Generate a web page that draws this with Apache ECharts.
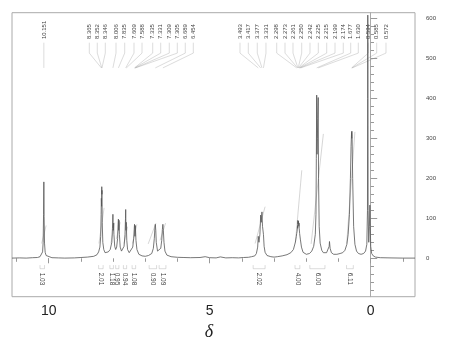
<!DOCTYPE html>
<html><head><meta charset="utf-8">
<script src="https://cdn.jsdelivr.net/npm/echarts@6/dist/echarts.min.js"></script>
<style>html,body{margin:0;padding:0;background:#fff}#c{width:450px;height:349px}</style>
</head><body><div id="c"></div>
<script>
// axis ranges and ticks
const xMin = -1.376, xMax = 11.14, yMin = -96, yMax = 614;
const xMajorTicks = [0, 5, 10];
const xMinorTicks = [-1, 0, 1, 2, 3, 4, 5, 6, 7, 8, 9, 10, 11];
const yMajorTicks = [0, 100, 200, 300, 400, 500, 600];
const yMinorTicks = [-80, -60, -40, -20, 20, 40, 60, 80, 120, 140, 160, 180, 220, 240, 260, 280,
  320, 340, 360, 380, 420, 440, 460, 480, 520, 540, 560, 580];

// picked peaks (ppm) and where their labels sit (ppm)
const peakShifts = [10.151, 8.365, 8.352, 8.346, 8.006, 7.835, 7.609, 7.588, 7.335, 7.331, 7.309, 7.305,
  6.689, 6.454, 3.493, 3.417, 3.377, 3.331, 2.298, 2.273, 2.261, 2.250, 2.242, 2.225, 2.215, 2.199, 2.174,
  1.677, 1.630, 0.594, 0.585, 0.572];
const peakLabelAt = [10.151, 8.739, 8.491, 8.242, 7.910, 7.640, 7.351, 7.102, 6.770, 6.522, 6.255, 6.006,
  5.758, 5.509, 4.059, 3.801, 3.522, 3.252, 2.919, 2.661, 2.413, 2.143, 1.885, 1.627, 1.366, 1.108, 0.851,
  0.621, 0.385, 0.075, -0.186, -0.475];

// integrals
const intValues = ['1.03', '2.01', '1.18', '0.95', '0.94', '1.08', '0.90', '1.09', '2.02', '4.00', '6.00', '6.11'];
const intFrom = [10.27, 8.45, 8.10, 7.92, 7.68, 7.41, 6.88, 6.57, 3.65, 2.35, 1.89, 0.75];
const intTo   = [10.13, 8.31, 7.99, 7.82, 7.58, 7.30, 6.65, 6.36, 3.28, 2.20, 1.42, 0.54];
const intCurveStart = [10.22, 8.44, 8.07, 7.90, 7.66, 7.40, 6.91, 6.54, 3.59, 2.34, 1.85, 0.745];
const intCurveEnd   = [10.08, 8.28, 7.95, 7.78, 7.55, 7.26, 6.67, 6.37, 3.28, 2.14, 1.47, 0.49];
const intCurveLow   = [37, 37, 37, 48, 37, 37, 36, 45, 37, 38, 36, 37];
const intCurveHigh  = [82, 126, 89, 90, 79, 85, 88, 88, 129, 220, 311, 316];

// spectrum [ppm, intensity]
const spectrum = [
  [11.14, 0.5], [10.9, 1], [10.7, 0.5], [10.5, 1.5],
  [10.35, 2], [10.27, 4], [10.22, 8], [10.19, 16], [10.172, 40], [10.160, 110], [10.151, 191], [10.143, 105],
  [10.130, 38], [10.11, 15], [10.08, 7], [10.03, 3], [9.9, 1.5],
  [9.7, 1], [9.5, 0.5], [9.2, 1], [9.0, 2], [8.8, 3], [8.6, 5], [8.5, 9],
  [8.45, 16], [8.41, 28], [8.385, 55], [8.372, 110], [8.365, 150], [8.358, 130], [8.352, 179], [8.349, 160],
  [8.346, 170], [8.338, 90], [8.32, 40], [8.29, 22], [8.25, 14], [8.2, 12], [8.15, 16],
  [8.09, 22], [8.04, 40], [8.020, 75], [8.006, 110], [7.995, 70], [7.985, 88], [7.975, 60], [7.95, 30],
  [7.92, 22], [7.89, 28],
  [7.86, 50], [7.845, 85], [7.835, 98], [7.825, 70], [7.815, 95], [7.805, 60], [7.78, 28], [7.74, 18],
  [7.70, 20], [7.66, 30],
  [7.63, 60], [7.615, 100], [7.609, 122], [7.600, 70], [7.592, 90], [7.588, 95], [7.575, 45], [7.55, 22],
  [7.50, 14], [7.44, 16], [7.39, 28],
  [7.36, 50], [7.345, 72], [7.335, 85], [7.331, 80], [7.320, 55], [7.309, 82], [7.305, 80], [7.29, 45],
  [7.26, 22], [7.2, 10], [7.1, 6], [7.0, 5], [6.9, 7],
  [6.80, 12], [6.75, 25], [6.72, 50], [6.70, 78], [6.689, 85], [6.675, 70], [6.66, 40], [6.62, 18],
  [6.57, 16], [6.52, 25],
  [6.49, 45], [6.47, 72], [6.454, 85], [6.44, 70], [6.42, 40], [6.39, 18], [6.33, 8], [6.2, 4], [6.0, 2.5],
  [5.8, 2], [5.6, 1.5], [5.3, 2], [5.14, 4], [5.0, 1.5], [4.8, 1], [4.67, 3.5], [4.5, 1], [4.3, 1.5],
  [4.1, 1], [3.95, 2], [3.8, 2.5], [3.7, 4], [3.6, 6],
  [3.55, 12], [3.51, 28], [3.493, 55], [3.47, 40], [3.44, 60], [3.417, 108], [3.40, 90], [3.377, 116],
  [3.36, 80], [3.345, 75], [3.331, 60], [3.31, 30], [3.28, 15], [3.22, 7], [3.1, 4], [3.0, 3], [2.9, 4],
  [2.75, 6], [2.6, 9], [2.48, 14], [2.40, 22],
  [2.34, 40], [2.31, 55], [2.298, 62], [2.285, 68], [2.273, 82], [2.267, 75], [2.261, 95], [2.255, 85],
  [2.250, 93], [2.246, 86], [2.242, 92], [2.232, 80], [2.225, 88], [2.220, 75], [2.215, 80], [2.207, 62],
  [2.199, 66], [2.185, 48], [2.174, 45], [2.15, 28], [2.10, 15], [2.05, 11], [2.0, 10], [1.95, 10],
  [1.9, 12], [1.83, 18], [1.77, 30], [1.72, 60],
  [1.70, 110], [1.688, 250], [1.677, 408], [1.667, 260], [1.655, 300], [1.645, 350], [1.630, 402],
  [1.620, 200], [1.60, 80], [1.57, 38], [1.52, 20], [1.47, 14], [1.42, 12], [1.37, 14], [1.32, 18],
  [1.29, 30], [1.28, 42], [1.26, 25], [1.22, 14], [1.15, 10], [1.05, 10], [0.95, 12], [0.87, 14],
  [0.80, 20], [0.74, 35], [0.70, 60],
  [0.66, 110], [0.63, 200], [0.61, 280], [0.594, 315], [0.589, 300], [0.585, 318], [0.578, 305],
  [0.572, 300], [0.56, 200], [0.53, 80], [0.49, 35], [0.44, 18], [0.38, 12], [0.30, 10], [0.22, 12],
  [0.16, 18], [0.12, 35],
  [0.10, 120], [0.095, 400], [0.09, 608], [0.085, 400], [0.08, 120], [0.06, 40], [0.04, 80], [0.025, 133],
  [0.012, 80], [0.0, 30], [-0.03, 12], [-0.08, 6], [-0.15, 3], [-0.3, 1.5], [-0.6, 1], [-1.0, 0.5],
  [-1.376, 0.5]
];

// annotation layout levels (intensity units)
const LBL_Y = 548, LINE_TOP = 539, LINE_KNEE = 513, LINE_END = 476;
const BR_TOP = -17, BR_BOT = -26, INT_LBL_Y = -36;

const chart = echarts.init(document.getElementById('c'), null, {renderer: 'canvas'});
const smallFont = 'Liberation Sans, Arial, sans-serif';

const option = {
  animation: false,
  grid: {left: 12, right: 35, top: 12.7, bottom: 52.3, show: true, borderColor: '#aaa', borderWidth: 1},
  xAxis: [
    {type: 'value', min: xMin, max: xMax, inverse: true, position: 'bottom',
     axisLine: {show: false}, splitLine: {show: false},
     axisTick: {show: true, customValues: xMajorTicks, length: 5, lineStyle: {color: '#999'}},
     axisLabel: {customValues: xMajorTicks, fontSize: 14, color: '#222', margin: 7, fontFamily: smallFont},
     name: 'δ', nameLocation: 'middle', nameGap: 27,
     nameTextStyle: {fontSize: 18, fontStyle: 'italic', fontFamily: 'Liberation Serif, serif', color: '#222',
       padding: [0, 9, 0, 0]}},
    {type: 'value', min: xMin, max: xMax, inverse: true, position: 'bottom',
     axisLine: {show: false}, splitLine: {show: false},
     axisTick: {show: true, customValues: xMinorTicks, length: 3.5, lineStyle: {color: '#999'}},
     axisLabel: {show: false}}
  ],
  yAxis: [
    {type: 'value', min: yMin, max: yMax, position: 'right', offset: 3,
     axisLine: {show: true, lineStyle: {color: '#aaa'}}, splitLine: {show: false},
     axisTick: {show: true, customValues: yMajorTicks, length: 6.5, lineStyle: {color: '#999'}},
     axisLabel: {customValues: yMajorTicks, fontSize: 6, color: '#444', margin: 8, fontFamily: smallFont}},
    {type: 'value', min: yMin, max: yMax, position: 'right', offset: 3,
     axisLine: {show: false}, splitLine: {show: false},
     axisTick: {show: true, customValues: yMinorTicks, length: 3.3, lineStyle: {color: '#999'}},
     axisLabel: {show: false}}
  ],
  series: [
    {type: 'line', data: spectrum, showSymbol: false, symbol: 'none', sampling: false,
     lineStyle: {color: '#555', width: 0.8}, silent: true, clip: true, z: 3},
    {type: 'lines', coordinateSystem: 'cartesian2d', polyline: true, silent: true,
     lineStyle: {color: '#777', width: 0.6},
     data: intCurveStart.map((s, i) => ({coords: [[s, intCurveLow[i]], [intCurveEnd[i], intCurveHigh[i]]]}))},
    {type: 'lines', coordinateSystem: 'cartesian2d', polyline: true, silent: true,
     lineStyle: {color: '#888', width: 0.6},
     data: peakShifts.map((p, i) => ({coords: [[peakLabelAt[i], LINE_TOP], [peakLabelAt[i], LINE_KNEE], [p, LINE_END]]}))},
    {type: 'lines', coordinateSystem: 'cartesian2d', polyline: true, silent: true,
     lineStyle: {color: '#888', width: 0.6},
     data: intFrom.map((f, i) => ({coords: [[f, BR_TOP], [f, BR_BOT], [intTo[i], BR_BOT], [intTo[i], BR_TOP]]}))},
    {type: 'custom', coordinateSystem: 'cartesian2d', silent: true,
     data: peakShifts.map((p, i) => [peakLabelAt[i], LBL_Y, i]),
     renderItem: (params, api) => {
       const pt = api.coord([api.value(0), api.value(1)]);
       return {type: 'text', x: pt[0], y: pt[1], rotation: Math.PI / 2,
         style: {text: peakShifts[api.value(2)].toFixed(3), fontSize: 6, fill: '#444',
           align: 'left', verticalAlign: 'middle', fontFamily: smallFont}};
     }},
    {type: 'custom', coordinateSystem: 'cartesian2d', silent: true,
     data: intValues.map((v, i) => [(intFrom[i] + intTo[i]) / 2, INT_LBL_Y, i]),
     renderItem: (params, api) => {
       const pt = api.coord([api.value(0), api.value(1)]);
       return {type: 'text', x: pt[0], y: pt[1], rotation: -Math.PI / 2,
         style: {text: intValues[api.value(2)], fontSize: 6.5, fill: '#444',
           align: 'left', verticalAlign: 'middle', fontFamily: smallFont}};
     }}
  ]
};
chart.setOption(option);
</script>
</body></html>
